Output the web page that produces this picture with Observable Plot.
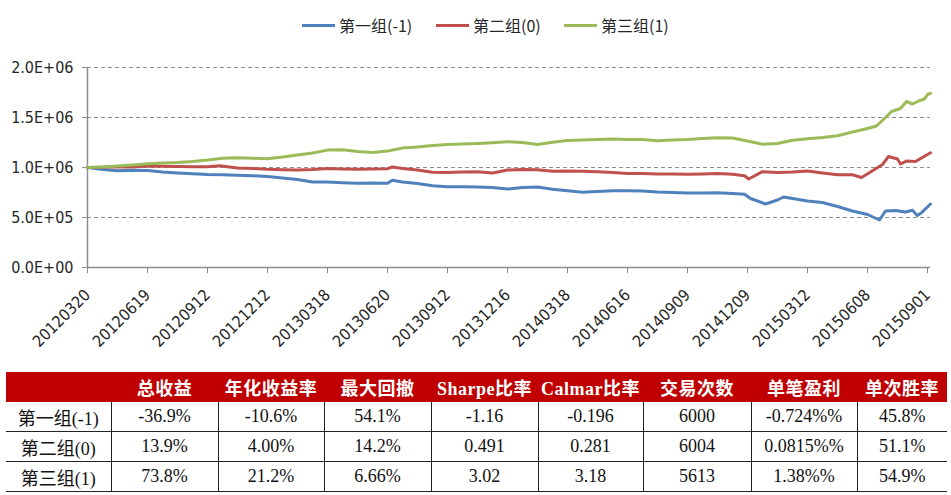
<!DOCTYPE html>
<html>
<head>
<meta charset="utf-8">
<script src="https://cdn.jsdelivr.net/npm/d3@7"></script>
<script src="https://cdn.jsdelivr.net/npm/@observablehq/plot@0.6"></script>
<style>
  html, body { margin: 0; padding: 0; background: #fff; }
  body { width: 951px; height: 495px; overflow: hidden; position: relative; }
  #legend { position: absolute; left: 0; top: 0; width: 951px; height: 50px; }
  .item { position: absolute; top: 13px; height: 24px; display: flex; align-items: center;
          font-family: "Noto Sans CJK SC", "Liberation Sans", sans-serif; font-size: 16px; color: #262626; }
  .sw { width: 33px; height: 3px; margin-right: 4px; }
  #chart { position: absolute; left: 0; top: 50px; }
  #tbl { position: absolute; left: 6px; top: 372px; border-collapse: collapse; table-layout: fixed; width: 941px; }
  #tbl td, #tbl th { height: 29px; padding: 0; text-align: center; white-space: nowrap; }
  #tbl th { background: #c00000; color: #fff; font-weight: bold; font-size: 18px; height: 30px;
            font-family: "Liberation Serif", "Noto Sans CJK SC", serif; letter-spacing: 0.5px; }
  #tbl td { font-family: "Liberation Serif", "Noto Sans CJK SC", serif; font-size: 18px; color: #111;
            border-left: 1px solid #222; border-bottom: 1px solid #222; }
  #tbl tr td:first-child { border-left: none; }
  #tbl tr:first-child td { border-top: 1px solid #222; }
</style>
</head>
<body>
<div id="legend"></div>
<div id="chart"></div>
<table id="tbl"></table>
<script>
// ---- data ----
const dates = ["20120320","20120619","20120912","20121212","20130318","20130620","20130912","20131216",
               "20140318","20140616","20140909","20141209","20150312","20150608","20150901"];
const yTicks = [0, 500000, 1000000, 1500000, 2000000];
const yTickLabels = ["0.0E+00","5.0E+05","1.0E+06","1.5E+06","2.0E+06"];
const seriesNames = ["第一组(-1)","第二组(0)","第三组(1)"];
const seriesColors = ["#4f81bd","#c0504d","#9bbb59"];

// [position in date-tick units, value]
const group1 = [[0,1000000],[0.25,980000],[0.5,968000],[0.75,972000],[1,970000],[1.25,955000],[1.5,945000],[1.75,938000],
  [2,930000],[2.25,928000],[2.5,922000],[2.75,918000],[3,909000],[3.25,895000],[3.5,880000],[3.75,855000],
  [4,856000],[4.25,848000],[4.5,843000],[4.75,846000],[5,843000],[5.08,873000],[5.25,855000],[5.5,840000],
  [5.75,817000],[6,807000],[6.25,808000],[6.5,806000],[6.75,800000],[7,785000],[7.25,800000],[7.5,805000],
  [7.75,782000],[8,767000],[8.25,752000],[8.5,760000],[8.75,768000],[9,768000],[9.25,765000],[9.5,755000],
  [9.75,750000],[10,745000],[10.25,745000],[10.5,748000],[10.75,740000],[10.95,733000],[11.05,690000],
  [11.3,635000],[11.5,675000],[11.6,705000],[11.75,690000],[12,665000],[12.25,650000],[12.5,610000],
  [12.75,565000],[13,530000],[13.2,475000],[13.3,565000],[13.47,570000],[13.63,555000],[13.75,573000],
  [13.83,520000],[13.9,548000],[14.05,635000]];
const group2 = [[0,1000000],[0.25,1003000],[0.5,1008000],[0.75,1005000],[1,1015000],[1.25,1012000],[1.5,1010000],
  [1.75,1008000],[2,1008000],[2.2,1018000],[2.5,995000],[2.75,990000],[3,982000],[3.25,978000],[3.5,975000],
  [3.75,980000],[4,990000],[4.25,985000],[4.5,982000],[4.75,985000],[5,988000],[5.08,1005000],[5.25,990000],
  [5.5,975000],[5.75,952000],[6,949000],[6.25,955000],[6.5,958000],[6.75,945000],[7,975000],[7.25,980000],
  [7.5,978000],[7.75,962000],[8,965000],[8.25,963000],[8.5,958000],[8.75,950000],[9,940000],[9.25,940000],
  [9.5,935000],[9.75,935000],[10,933000],[10.25,935000],[10.5,940000],[10.75,932000],[10.95,918000],
  [11.02,885000],[11.25,958000],[11.5,950000],[11.75,955000],[12,965000],[12.25,945000],[12.5,928000],
  [12.75,928000],[12.9,900000],[13.05,955000],[13.25,1030000],[13.35,1110000],[13.5,1085000],[13.55,1035000],
  [13.65,1065000],[13.8,1060000],[13.9,1095000],[14.05,1148000]];
const group3 = [[0,1000000],[0.25,1005000],[0.5,1015000],[0.75,1025000],[1,1038000],[1.25,1045000],[1.5,1050000],
  [1.75,1060000],[2,1074000],[2.25,1092000],[2.5,1098000],[2.75,1092000],[3,1088000],[3.25,1105000],
  [3.5,1125000],[3.75,1145000],[4,1174000],[4.25,1178000],[4.5,1160000],[4.75,1150000],[5,1164000],
  [5.25,1195000],[5.5,1205000],[5.75,1220000],[6,1230000],[6.25,1235000],[6.5,1240000],[6.75,1248000],
  [7,1258000],[7.25,1250000],[7.5,1230000],[7.75,1252000],[8,1270000],[8.25,1276000],[8.5,1280000],
  [8.75,1285000],[9,1280000],[9.25,1280000],[9.5,1268000],[9.75,1275000],[10,1279000],[10.25,1290000],
  [10.5,1298000],[10.75,1295000],[11,1265000],[11.25,1232000],[11.5,1240000],[11.75,1272000],[12,1288000],
  [12.25,1300000],[12.5,1318000],[12.75,1355000],[13,1390000],[13.15,1415000],[13.3,1500000],[13.4,1560000],
  [13.55,1590000],[13.65,1660000],[13.75,1635000],[13.85,1665000],[13.95,1685000],[14,1730000],[14.05,1742000]];

// table
const headers = ["","总收益","年化收益率","最大回撤","Sharpe比率","Calmar比率","交易次数","单笔盈利","单次胜率"];
const totalReturn = ["-36.9%","13.9%","73.8%"];
const annualReturn = ["-10.6%","4.00%","21.2%"];
const maxDrawdown = ["54.1%","14.2%","6.66%"];
const sharpe = ["-1.16","0.491","3.02"];
const calmar = ["-0.196","0.281","3.18"];
const trades = ["6000","6004","5613"];
const perTrade = ["-0.724%%","0.0815%%","1.38%%"];
const winRate = ["45.8%","51.1%","54.9%"];
const colWidths = [105,107,106,107,107,105,108,106,90];

// ---- legend ----
const legendX = [302, 436, 564];
const legend = document.getElementById("legend");
seriesNames.forEach((n, i) => {
  const it = document.createElement("div");
  it.className = "item";
  it.style.left = legendX[i] + "px";
  it.innerHTML = `<div class="sw" style="background:${seriesColors[i]}"></div><span>${n}</span>`;
  legend.appendChild(it);
});

// ---- chart ----
const series = [group1, group2, group3];
const axisColor = "#8c8c8c";
const chart = Plot.plot({
  width: 951,
  height: 314,
  marginLeft: 87,
  marginRight: 21,
  marginTop: 17,
  marginBottom: 97,
  style: {
    fontFamily: '"Liberation Sans Narrow","DejaVu Sans Condensed","Liberation Sans",sans-serif',
    fontSize: "16px",
    color: "#262626",
    background: "transparent",
    overflow: "visible"
  },
  x: {type: "linear", domain: [0, 14.05]},
  y: {domain: [0, 2000000]},
  marks: [
    Plot.ruleY(yTicks.filter(d => d > 0), {stroke: axisColor, strokeDasharray: "4,3", strokeWidth: 1}),
    Plot.axisY({ticks: yTicks, tickFormat: d => yTickLabels[yTicks.indexOf(d)], tickSize: 5, tickPadding: 9,
                stroke: axisColor, label: null}),
    Plot.axisX({ticks: dates.map((d, i) => i), tickFormat: i => dates[i], tickRotate: -45, tickSize: 6,
                tickPadding: 19, stroke: axisColor, label: null}),
    Plot.ruleX([0], {stroke: axisColor, strokeWidth: 1.5}),
    Plot.ruleY([0], {stroke: axisColor, strokeWidth: 1.5}),
    ...series.map((s, i) => Plot.line(s, {x: d => d[0], y: d => d[1], stroke: seriesColors[i],
                                          strokeWidth: 3, strokeLinejoin: "round"}))
  ]
});
document.getElementById("chart").appendChild(chart);

// ---- table ----
const tbl = document.getElementById("tbl");
const cg = document.createElement("colgroup");
colWidths.forEach(w => { const c = document.createElement("col"); c.style.width = w + "px"; cg.appendChild(c); });
tbl.appendChild(cg);
const hr = document.createElement("tr");
headers.forEach(h => { const th = document.createElement("th"); th.textContent = h; hr.appendChild(th); });
tbl.appendChild(hr);
const cols = [totalReturn, annualReturn, maxDrawdown, sharpe, calmar, trades, perTrade, winRate];
seriesNames.forEach((n, r) => {
  const tr = document.createElement("tr");
  const first = document.createElement("td"); first.textContent = n; tr.appendChild(first);
  cols.forEach(c => { const td = document.createElement("td"); td.textContent = c[r]; tr.appendChild(td); });
  tbl.appendChild(tr);
});
</script>
</body>
</html>
